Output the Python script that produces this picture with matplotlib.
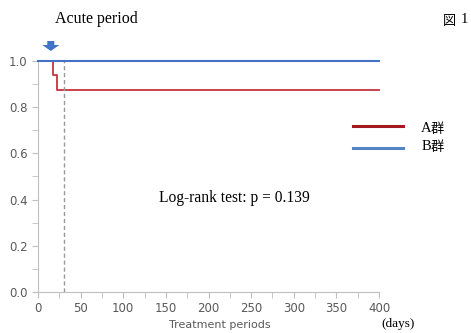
import numpy as np
import matplotlib.pyplot as plt
from matplotlib.ticker import MultipleLocator
from matplotlib.patches import Polygon

# survival step data (days, probability)
a_days = [0, 17, 22, 400]
a_surv = [1.0, 0.9375, 0.875, 0.875]
b_days = [0, 400]
b_surv = [1.0, 1.0]
acute_day = 30
arrow_day = 15
groups = ['A', 'B']
p_text = 'Log-rank test: p = 0.139'

red = '#c8313e'
blue = '#4472c4'
gray = '#595959'
serif = ['Liberation Serif', 'Noto Sans CJK JP']
cjk = ['Noto Sans CJK JP']

W, H = 471, 333
fig = plt.figure(figsize=(W / 100, H / 100), dpi=100)
ax = fig.add_axes([0.0807, 0.123, 0.724, 0.694])

ax.step(a_days, a_surv, where='post', color=red, lw=1.3, clip_on=False)
ax.step(b_days, b_surv, where='post', color=blue, lw=1.5, clip_on=False, zorder=3)
ax.axvline(acute_day, color='#999999', ls=(0, (3, 2)), lw=1)

ax.set_xlim(0, 400)
ax.set_ylim(0, 1.0)
ax.xaxis.set_major_locator(MultipleLocator(50))
ax.xaxis.set_minor_locator(MultipleLocator(25))
ax.yaxis.set_major_locator(MultipleLocator(0.2))
ax.yaxis.set_minor_locator(MultipleLocator(0.1))
ax.yaxis.set_major_formatter(plt.FuncFormatter(lambda v, p: f'{v:.1f}'))
for s in ['top', 'right']:
    ax.spines[s].set_visible(False)
for s in ['left', 'bottom']:
    ax.spines[s].set_color('#bfbfbf')
ax.tick_params(which='both', colors='#bfbfbf', labelcolor=gray, labelsize=8.5, length=4)

ax.text(230, 0.405, p_text, family=serif, fontsize=11.2, ha='center', va='center')

# block arrow above the axes, drawn in figure pixels
x0 = 38 + arrow_day * 0.8525
pts = [(x0 - 3.5, 41), (x0 + 3.5, 41), (x0 + 3.5, 45), (x0 + 8.5, 45), (x0, 51),
       (x0 - 8.5, 45), (x0 - 3.5, 45)]
fig.add_artist(Polygon([(x / W, 1 - y / H) for x, y in pts], closed=True,
                       color='#3f74c6', lw=0, transform=fig.transFigure))
fig.text(96 / W, 1 - 19 / H, 'Acute period', family=serif, fontsize=11.5, ha='center', va='center')
fig.text(449.5 / W, 1 - 21 / H, '図', family=cjk, fontsize=9.5, ha='center', va='center')
fig.text(464 / W, 1 - 19.5 / H, '1', family=serif, fontsize=10.5, ha='center', va='center')

# legend
for i, (g, c) in enumerate(zip(groups, ['#a31a1f', '#5584c4'])):
    y = 1 - (126 + 22 * i) / H
    ty = 1 - (128 + 18 * i) / H
    fig.add_artist(plt.Line2D([353 / W, 403 / W], [y, y], color=c, lw=2.2))
    fig.text(426 / W, ty, g, family=serif, fontsize=10.5, ha='center', va='center')
    fig.text(437.5 / W, ty - 2 / H, '群', family=cjk, fontsize=9.5, ha='center', va='center')

fig.text(220 / W, 1 - 325 / H, 'Treatment periods', fontsize=8, color=gray, ha='center', va='center')
fig.text(398 / W, 1 - 324 / H, '(days)', family=serif, fontsize=9.5, ha='center', va='center')

fig.savefig('out.png', dpi=100)
